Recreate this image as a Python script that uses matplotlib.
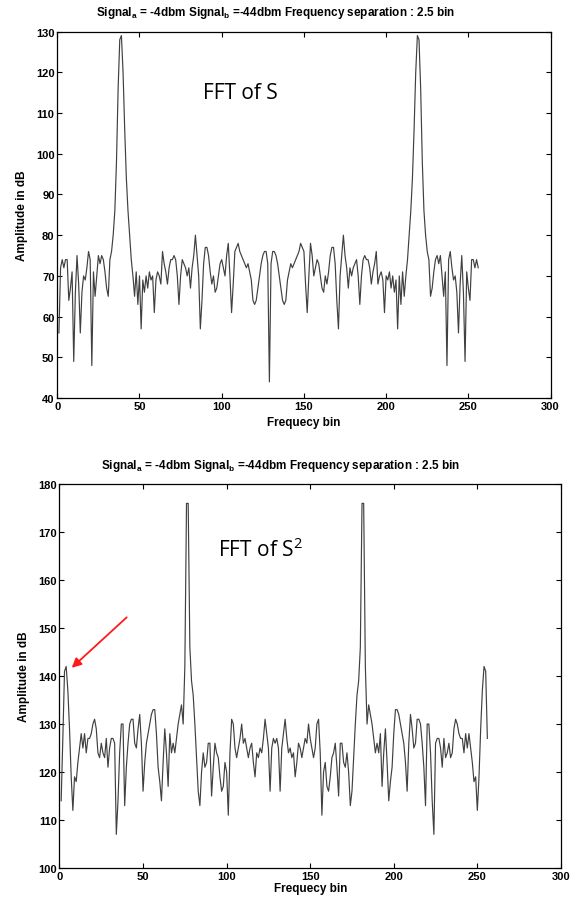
import matplotlib
matplotlib.use("Agg")
import matplotlib.pyplot as plt
import numpy as np

plt.rcParams['font.family'] = ['Liberation Sans', 'DejaVu Sans']
plt.rcParams['mathtext.fontset'] = 'custom'
plt.rcParams['mathtext.rm'] = 'Open Sans'
plt.rcParams['mathtext.it'] = 'Open Sans:italic'
plt.rcParams['mathtext.bf'] = 'Liberation Sans:bold'

# ---------------- data ----------------
# FFT of S, bins 1..256
fft_s = [
    56, 72, 74, 72, 74, 74, 64, 67, 71, 49,
    66, 75, 68, 56, 66, 70, 69, 72, 76, 74,
    48, 71, 65, 70, 75, 73, 75, 74, 71, 67,
    65, 74, 76, 80, 86, 98, 116, 128, 129, 120,
    106, 94, 86, 80, 74, 70, 65, 71, 63, 70,
    57, 69, 66, 70, 67, 71, 69, 70, 61, 69,
    71, 70, 68, 76, 73, 71, 68, 72, 74, 74,
    75, 74, 70, 63, 70, 74, 73, 72, 70, 72,
    67, 72, 75, 80, 75, 70, 57, 64, 73, 77,
    77, 75, 71, 68, 70, 66, 67, 70, 73, 74,
    72, 70, 75, 78, 70, 61, 68, 76, 77, 78,
    76, 75, 74, 73, 72, 73, 71, 69, 64, 63,
    64, 67, 70, 73, 75, 76, 76, 73, 44,
    73, 76, 76, 75, 73, 70, 67, 64, 63, 64,
    69, 71, 73, 72, 73, 74, 75, 76, 78, 77,
    76, 68, 61, 70, 78, 75, 70, 72, 74, 73,
    70, 67, 66, 70, 68, 71, 75, 77, 77, 73,
    64, 57, 70, 75, 80, 75, 72, 67, 72, 70,
    72, 73, 74, 70, 63, 70, 74, 75, 74, 74,
    72, 68, 71, 73, 76, 68, 70, 71, 69, 61,
    70, 69, 71, 67, 70, 66, 69, 57, 70, 63,
    71, 65, 70, 74, 80, 86, 94, 106, 120, 129,
    128, 116, 98, 86, 80, 76, 74, 65, 67, 71,
    74, 75, 73, 75, 70, 65, 71, 48, 74, 76,
    72, 69, 70, 66, 56, 68, 75, 66, 49, 71,
    67, 64, 74, 74, 72, 74, 72,
]

# FFT of S^2, bins 1..256
fft_s2 = [
    114, 127, 141, 142, 137, 129, 119, 112, 119, 118,
    122, 125, 128, 125, 128, 124, 127, 127, 128, 130,
    131, 129, 124, 123, 126, 124, 123, 127, 121, 125,
    127, 127, 126, 107, 114, 124, 130, 130, 113, 121,
    126, 130, 131, 131, 126, 125, 129, 132, 126, 116,
    122, 126, 128, 130, 132, 133, 133, 128, 121, 118,
    114, 122, 129, 124, 117, 128, 124, 126, 124, 127,
    130, 132, 134, 130, 142, 176, 176, 146, 139, 136,
    130, 123, 116, 113, 120, 124, 121, 122, 126, 126,
    115, 121, 126, 124, 123, 119, 116, 117, 122, 120,
    111, 124, 131, 130, 125, 123, 125, 127, 130, 126,
    127, 125, 123, 125, 126, 122, 119, 124, 123, 125,
    124, 127, 131, 128, 125, 116, 125, 127, 126,
    127, 125, 116, 125, 128, 131, 127, 124, 125, 123,
    124, 119, 122, 126, 125, 123, 125, 127, 126, 130,
    127, 125, 123, 125, 130, 131, 124, 111, 120, 122,
    117, 116, 119, 123, 124, 126, 121, 115, 126, 126,
    122, 121, 124, 120, 113, 116, 123, 130, 136, 139,
    146, 176, 176, 142, 130, 134, 132, 130, 127, 124,
    126, 124, 128, 117, 124, 129, 122, 114, 118, 121,
    128, 133, 133, 132, 130, 128, 126, 122, 116, 126,
    132, 129, 125, 126, 131, 131, 130, 126, 121, 113,
    130, 130, 124, 114, 107, 126, 127, 127, 125, 121,
    127, 123, 124, 126, 123, 124, 129, 131, 130, 128,
    127, 127, 124, 128, 125, 128, 125, 122, 118, 119,
    112, 119, 129, 137, 142, 141, 127,
]

bins = np.arange(1, len(fft_s) + 1)
bins2 = np.arange(1, len(fft_s2) + 1)

title_txt = r"Signal$_{\mathbf{a}}$ = -4dbm Signal$_{\mathbf{b}}$ =-44dbm Frequency separation : 2.5 bin"
xticks = [0, 50, 100, 150, 200, 250, 300]
yticks_top = [40, 50, 60, 70, 80, 90, 100, 110, 120, 130]
yticks_bot = [100, 110, 120, 130, 140, 150, 160, 170, 180]

# ---------------- figure ----------------
fig = plt.figure(figsize=(5.81, 9.03), dpi=100)
ax1 = fig.add_axes([0.0986, 0.558, 0.849, 0.406])
ax2 = fig.add_axes([0.1024, 0.0377, 0.863, 0.425])

line_col = '#404040'
for ax, x, y, yt, tx, lp in [(ax1, bins, fft_s, yticks_top, 0.443, 4),
                             (ax2, bins2, fft_s2, yticks_bot, 0.44, 1)]:
    ax.plot(x, y, color=line_col, lw=0.85)
    ax.set_xlim(0, 300)
    ax.set_ylim(yt[0], yt[-1])
    ax.set_xticks(xticks)
    ax.set_yticks(yt)
    ax.tick_params(direction='in', top=True, right=True, length=3.5, width=0.8,
                   labelsize=8, pad=2)
    for lab in ax.get_xticklabels() + ax.get_yticklabels():
        lab.set_fontweight('bold')
    for sp in ax.spines.values():
        sp.set_linewidth(0.9)
        sp.set_color('black')
    ax.set_title(title_txt, fontsize=8.5, fontweight='bold', pad=12, x=tx)
    ax.set_xlabel('Frequecy bin', fontsize=8.5, fontweight='bold', labelpad=lp)
    ax.set_ylabel('Amplitude in dB', fontsize=8.5, fontweight='bold', labelpad=6)

ax1.text(0.295, 0.833, 'FFT of S', transform=ax1.transAxes, fontsize=15,
         family='Open Sans', ha='left', va='center')
ax2.text(0.316, 0.831, r'FFT of S$^{\mathrm{2}}$', transform=ax2.transAxes, fontsize=15,
         family='Open Sans', ha='left', va='center')

ax2.annotate('', xy=(0.0244, 0.5216), xytext=(0.134, 0.653),
             xycoords='axes fraction', textcoords='axes fraction',
             arrowprops=dict(arrowstyle='-|>', color='#ff1a1a', lw=1.3,
                             mutation_scale=14, shrinkA=0, shrinkB=0))

fig.savefig('out.png', dpi=100)
